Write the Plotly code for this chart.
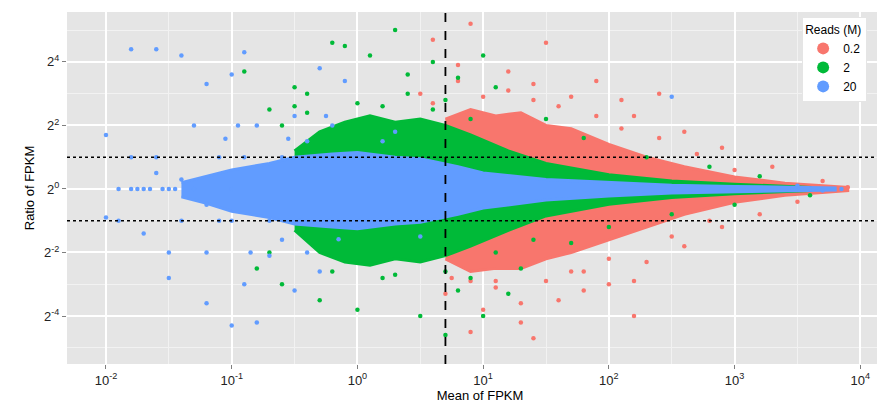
import plotly.graph_objects as go

# log10(mean FPKM), log2(ratio)
colors = {"0.2": "#F8766D", "2": "#00BA38", "20": "#619CFF"}

# dense core envelopes (x, upper, lower)
red_env_x = [0.7, 0.9, 1.1, 1.3, 1.5, 1.7, 2.0, 2.3, 2.6, 3.0, 3.4, 3.9]
red_env_up = [2.2, 2.5, 2.3, 2.4, 2.0, 1.9, 1.4, 1.0, 0.7, 0.38, 0.18, 0.05]
red_env_lo = [-2.2, -2.6, -2.5, -2.5, -2.2, -2.0, -1.6, -1.2, -0.8, -0.42, -0.2, -0.05]

green_env_x = [-0.5, -0.3, -0.1, 0.1, 0.3, 0.5, 0.7, 0.9, 1.2, 1.5, 2.0, 2.5, 3.0, 3.6]
green_env_up = [1.2, 1.8, 2.1, 2.3, 2.1, 2.2, 2.0, 1.7, 1.2, 0.8, 0.45, 0.25, 0.15, 0.05]
green_env_lo = [-1.3, -2.0, -2.3, -2.4, -2.2, -2.3, -2.1, -1.8, -1.3, -0.85, -0.48, -0.27, -0.15, -0.05]

blue_env_x = [-1.4, -1.2, -1.0, -0.7, -0.5, -0.2, 0.0, 0.3, 0.5, 0.8, 1.0, 1.5, 2.0, 2.5, 3.0, 3.8]
blue_env_up = [0.2, 0.4, 0.6, 0.8, 1.0, 1.1, 1.15, 1.0, 0.95, 0.7, 0.5, 0.3, 0.2, 0.12, 0.08, 0.03]
blue_env_lo = [-0.25, -0.45, -0.7, -0.9, -1.1, -1.2, -1.25, -1.1, -1.05, -0.8, -0.6, -0.35, -0.22, -0.13, -0.08, -0.03]

red_x = [0.6, 0.9, 1.5, 0.8, 1.2, 1.4, 1.9, 2.1, 2.2, 2.6, 2.9, 3.3, 3.7, 3.9, 2.0, 2.2,
         1.6, 1.0, 1.3, 0.9, 1.4, 1.8, 2.3, 2.6, 2.9, 3.2, 3.5, 0.5, 0.7, 2.4, 1.7, 1.1,
         1.0, 1.2, 1.6, 1.9, 2.1, 2.4, 2.7, 3.0, 1.1, 1.5, 1.8, 2.0, 2.5, 2.8, 0.8, 1.3,
         0.6, 0.9, 2.2, 1.4, 1.7, 0.75]
red_y = [4.7, 5.2, 4.6, 3.9, 3.7, 3.3, 3.4, 2.8, 2.3, 1.8, 1.3, 0.7, 0.25, 0.05, -3.0, -4.0,
         -3.5, -3.8, -4.2, -4.5, -4.7, -3.2, -2.3, -1.8, -1.2, -0.8, -0.4, 3.0, -3.3, 3.0, 2.9, -2.9,
         2.9, 3.1, 2.6, 2.3, 1.9, 1.6, 1.1, 0.6, -3.1, -2.9, -2.6, -2.2, -1.5, -1.0, 3.4, -3.6,
         2.7, -2.9, -2.9, 2.8, -2.6, -2.8]

green_x = [-0.2, 0.1, 0.3, -0.1, -0.9, -0.5, 0.6, 0.8, 1.0, 1.1, -0.7, -0.4, 0.4, 0.7, 1.5,
           1.8, 2.3, 2.8, 3.2, -0.6, -0.3, 0.0, 0.5, 0.7, 1.0, 0.8, 1.3, 1.7, 2.0, 2.5, 3.0,
           3.6, -0.8, 0.2, 0.4, 1.2, -0.5, 0.9, -0.6, -0.4, 0.0, 0.2, 0.6, 0.9, -0.7, -0.2,
           0.3, 0.7, 1.1, 1.4]
green_y = [4.6, 4.2, 5.0, 4.5, 3.7, 3.2, 4.0, 3.5, 4.2, 3.2, 2.5, 3.0, 3.0, 2.8, 2.2,
           1.6, 1.0, 0.7, 0.4, -3.0, -3.5, -3.8, -4.0, -4.6, -4.0, -3.2, -2.5, -1.7, -1.2, -0.8, -0.5,
           -0.2, -2.5, -2.8, 3.6, -3.3, 2.6, -2.8, 2.0, 2.4, 2.7, 2.6, 2.5, 2.2, -2.0, -2.6,
           -2.7, -2.6, -2.0, -1.6]

blue_x = [-1.8, -1.6, -1.4, -0.9, -1.2, -1.0, -0.3, -0.1, -2.0, -1.6, -1.8, -1.9, -1.7, -1.5,
          -1.2, -1.0, -0.8, -1.4, -1.0, -0.6, -1.3, -0.8, -0.5, -1.1, -0.6, -1.5, -1.2, -0.7,
          -0.3, -0.5, -0.9, -1.6, -1.2, -1.4, 2.5, 3.5, 3.85, 3.7, -1.0, -1.5, -0.2, 0.2, 0.5,
          0.3, -0.4, -2.0, -1.7, -1.3, -0.9, -0.4, -1.8, -1.1, -0.7, -1.9, -1.75, -1.65, -1.55,
          -1.45, -0.95, -0.85, -0.55, -0.15, -0.25, -1.05, -0.45]
blue_y = [4.4, 4.4, 4.2, 4.3, 3.3, 3.6, 3.8, 3.4, 1.7, 1.0, 0.0, -1.0, -1.4, -2.8,
          -3.6, -4.3, -4.2, -1.0, -1.0, -1.6, 2.0, 2.0, 2.3, 1.0, 1.0, -2.0, -2.0, -2.1,
          -2.6, -3.2, -3.0, 0.5, -0.5, 0.3, 2.9, 0.1, 0.0, -0.05, 0.0, 0.0, 2.0, 1.5, -1.5,
          1.8, -2.0, -0.9, 0.0, 0.0, 1.0, 1.5, 1.0, -1.0, -1.0, 0.0, 0.0, 0.0, 0.0,
          0.0, 2.0, -2.0, 1.58, -1.58, 2.3, 1.58, -1.0]

series = [("0.2", red_x, red_y, red_env_x, red_env_up, red_env_lo),
          ("2", green_x, green_y, green_env_x, green_env_up, green_env_lo),
          ("20", blue_x, blue_y, blue_env_x, blue_env_up, blue_env_lo)]

fig = go.Figure()
for name, xs, ys, ex, eu, el in series:
    c = colors[name]
    fig.add_trace(go.Scatter(x=ex + ex[::-1], y=eu + el[::-1], fill="toself",
                             fillcolor=c, line=dict(color=c, width=3),
                             mode="lines", showlegend=False, hoverinfo="skip"))
    fig.add_trace(go.Scatter(x=xs, y=ys, mode="markers", name=name,
                             marker=dict(color=c, size=4.5)))

for yv in [1, -1]:
    fig.add_hline(y=yv, line=dict(color="black", width=1.5, dash="dot"))
fig.add_vline(x=0.7, line=dict(color="black", width=1.8, dash="dash"))

fig.update_layout(
    width=885, height=411, margin=dict(l=59, r=0, t=4, b=55),
    plot_bgcolor="#E5E5E5", paper_bgcolor="white",
    font=dict(family="Liberation Sans, Arial", size=12, color="black"),
    xaxis=dict(range=[-2.31, 4.26], tickvals=[-2, -1, 0, 1, 2, 3, 4],
               ticktext=["10<sup>%d</sup>" % k for k in range(-2, 5)],
               gridcolor="white", gridwidth=1.5, zeroline=False, ticks="outside",
               tickcolor="#7F7F7F", ticklen=4, tickfont=dict(size=13, color="#222"),
               minor=dict(tickvals=[-2.5, -1.5, -0.5, 0.5, 1.5, 2.5, 3.5, 4.5], gridcolor="#F2F2F2", gridwidth=0.6),
               title=dict(text="Mean of FPKM", standoff=4, font=dict(size=13))),
    yaxis=dict(range=[-5.51, 5.57], tickvals=[-4, -2, 0, 2, 4],
               ticktext=["2<sup>%d</sup>" % k for k in [-4, -2, 0, 2, 4]],
               gridcolor="white", gridwidth=1.5, zeroline=False, ticks="outside",
               tickcolor="#7F7F7F", ticklen=4, tickfont=dict(size=13, color="#222"),
               minor=dict(tickvals=[-5, -3, -1, 1, 3, 5], gridcolor="#F2F2F2", gridwidth=0.6),
               title=dict(text="Ratio of FPKM", standoff=6, font=dict(size=13))),
    legend=dict(x=0.89, y=0.985, xanchor="left", yanchor="top", bgcolor="white",
                bordercolor="#E5E5E5", borderwidth=1,
                title=dict(text="Reads (M)", font=dict(size=12)), itemsizing="constant",
                font=dict(size=12)),
)
fig.write_html("out.html")
